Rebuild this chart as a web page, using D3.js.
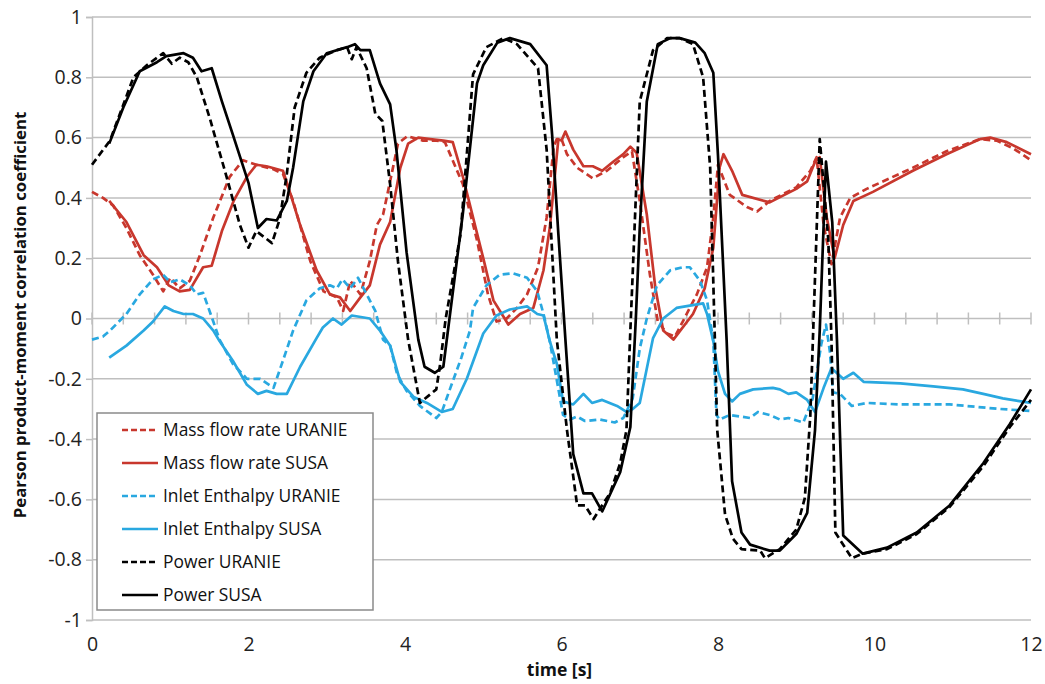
<!DOCTYPE html>
<html>
<head>
<meta charset="utf-8">
<script src="https://cdn.jsdelivr.net/npm/d3@7"></script>
<style>
  body { margin: 0; background: #fff; }
  text { font-family: "Open Sans", "Noto Sans", sans-serif; }
</style>
</head>
<body>
<div id="chart"></div>
<script>
// time [s] and correlation values
const tMassUranie = [0,0.14,0.27,0.44,0.61,0.78,0.91,1.0,1.12,1.25,1.38,1.55,1.76,1.93,2.1,2.32,2.44,2.57,2.79,2.96,3.13,3.21,3.3,3.43,3.55,3.64,3.72,3.81,3.91,4.03,4.23,4.4,4.51,4.74,4.92,5.06,5.17,5.3,5.43,5.56,5.7,5.81,5.9,5.94,6.0,6.07,6.2,6.4,6.58,6.79,6.9,7.0,7.13,7.23,7.35,7.45,7.73,7.86,7.94,8.0,8.15,8.37,8.5,8.66,9.0,9.18,9.26,9.35,9.45,9.56,9.69,9.9,10.49,10.92,11.35,11.56,11.77,12.0];
const vMassUranie = [0.42,0.40,0.375,0.30,0.21,0.145,0.09,0.135,0.10,0.125,0.21,0.335,0.47,0.525,0.51,0.495,0.48,0.39,0.19,0.09,0.07,0.025,0.125,0.08,0.19,0.31,0.345,0.455,0.58,0.605,0.59,0.59,0.585,0.445,0.26,0.08,-0.01,0.0,0.035,0.08,0.17,0.335,0.57,0.595,0.595,0.545,0.50,0.465,0.49,0.535,0.555,0.39,0.145,-0.01,-0.05,-0.06,0.08,0.17,0.335,0.51,0.41,0.37,0.355,0.39,0.435,0.49,0.535,0.31,0.18,0.335,0.40,0.43,0.50,0.555,0.595,0.59,0.565,0.525];

const tMassSusa = [0.22,0.44,0.66,0.83,0.98,1.12,1.25,1.42,1.53,1.66,1.81,1.98,2.1,2.23,2.44,2.51,2.66,2.87,3.04,3.17,3.3,3.43,3.55,3.68,3.81,3.94,4.04,4.17,4.32,4.49,4.61,4.74,4.87,5.0,5.13,5.32,5.47,5.64,5.77,5.85,5.96,6.0,6.05,6.15,6.28,6.4,6.52,6.66,6.79,6.88,6.96,7.09,7.2,7.3,7.43,7.68,7.83,7.94,8.02,8.07,8.18,8.31,8.66,9.0,9.14,9.24,9.3,9.39,9.49,9.6,9.73,9.98,10.49,10.92,11.35,11.48,11.69,12.0];
const vMassSusa = [0.39,0.32,0.21,0.17,0.11,0.09,0.095,0.17,0.175,0.29,0.39,0.47,0.51,0.505,0.49,0.435,0.31,0.16,0.08,0.07,0.025,0.07,0.11,0.245,0.32,0.50,0.58,0.60,0.595,0.59,0.585,0.47,0.335,0.20,0.06,-0.02,0.015,0.035,0.16,0.30,0.595,0.59,0.62,0.56,0.505,0.505,0.49,0.52,0.545,0.57,0.55,0.345,0.10,-0.04,-0.07,0.015,0.10,0.235,0.50,0.545,0.49,0.41,0.385,0.43,0.455,0.52,0.535,0.335,0.20,0.31,0.39,0.42,0.49,0.545,0.595,0.60,0.585,0.545];

const tInletUranie = [0,0.14,0.23,0.44,0.61,0.78,0.91,1.0,1.12,1.25,1.34,1.42,1.55,1.63,1.8,1.98,2.15,2.32,2.44,2.57,2.74,2.91,3.04,3.13,3.2,3.3,3.4,3.51,3.62,3.72,3.81,3.9,4.02,4.19,4.4,4.47,4.58,4.72,4.83,4.87,5.04,5.21,5.38,5.56,5.69,5.77,5.85,6.02,6.11,6.2,6.3,6.49,6.68,6.79,6.91,7.0,7.09,7.22,7.39,7.55,7.64,7.77,7.86,7.94,7.98,8.02,8.15,8.41,8.51,8.66,8.79,8.9,9.09,9.21,9.32,9.38,9.43,9.47,9.56,9.71,9.9,10.33,10.96,11.17,11.6,12.0];
const vInletUranie = [-0.07,-0.06,-0.04,0.015,0.08,0.13,0.145,0.12,0.13,0.11,0.08,0.085,-0.01,-0.07,-0.15,-0.20,-0.20,-0.23,-0.14,-0.04,0.06,0.10,0.11,0.10,0.13,0.10,0.135,0.08,0.025,-0.07,-0.09,-0.185,-0.24,-0.29,-0.33,-0.31,-0.23,-0.13,-0.04,0.035,0.11,0.145,0.15,0.135,0.09,0.015,-0.075,-0.32,-0.335,-0.325,-0.34,-0.335,-0.345,-0.33,-0.265,-0.10,0.0,0.11,0.16,0.17,0.17,0.125,0.06,-0.075,-0.32,-0.335,-0.32,-0.33,-0.31,-0.32,-0.335,-0.33,-0.345,-0.265,-0.085,-0.02,-0.11,-0.245,-0.25,-0.29,-0.28,-0.285,-0.285,-0.29,-0.30,-0.307];

const tInletSusa = [0.22,0.44,0.66,0.78,0.93,1.04,1.17,1.29,1.42,1.55,1.63,1.8,1.98,2.12,2.23,2.36,2.49,2.66,2.87,2.95,3.08,3.19,3.32,3.55,3.68,3.81,3.94,4.11,4.28,4.47,4.61,4.79,5.0,5.17,5.34,5.56,5.69,5.77,5.85,5.94,6.02,6.15,6.28,6.39,6.52,6.71,6.83,6.91,7.0,7.17,7.3,7.47,7.81,7.86,7.94,8.0,8.09,8.18,8.28,8.45,8.7,8.79,8.9,9.0,9.14,9.24,9.35,9.45,9.6,9.73,9.86,10.33,10.75,11.13,11.39,11.64,12.0];
const vInletSusa = [-0.13,-0.09,-0.04,-0.01,0.04,0.025,0.015,0.015,0.0,-0.04,-0.075,-0.14,-0.22,-0.25,-0.24,-0.25,-0.25,-0.16,-0.065,-0.03,0.0,-0.02,0.01,0.0,-0.04,-0.09,-0.21,-0.26,-0.28,-0.31,-0.30,-0.20,-0.05,0.01,0.03,0.04,0.015,0.01,-0.075,-0.15,-0.275,-0.285,-0.25,-0.28,-0.27,-0.29,-0.31,-0.30,-0.28,-0.065,0.0,0.035,0.05,0.015,-0.075,-0.175,-0.25,-0.275,-0.25,-0.235,-0.23,-0.235,-0.25,-0.245,-0.27,-0.31,-0.23,-0.165,-0.20,-0.18,-0.21,-0.215,-0.225,-0.235,-0.25,-0.265,-0.28];

const tPowerUranie = [0,0.23,0.53,0.7,0.91,1.02,1.12,1.23,1.34,1.51,1.72,1.89,2.0,2.1,2.3,2.4,2.49,2.59,2.74,2.91,3.13,3.26,3.32,3.38,3.51,3.62,3.71,3.81,3.91,4.04,4.19,4.4,4.45,4.52,4.71,4.87,5.04,5.26,5.43,5.7,5.81,5.94,6.07,6.2,6.3,6.41,6.53,6.62,6.75,6.83,6.88,7.0,7.17,7.35,7.51,7.68,7.81,7.9,7.96,7.99,8.09,8.19,8.3,8.54,8.6,8.79,9.0,9.11,9.18,9.3,9.41,9.45,9.5,9.71,9.85,10.16,10.54,10.96,11.39,11.73,12.0];
const vPowerUranie = [0.51,0.59,0.80,0.84,0.88,0.845,0.865,0.85,0.80,0.66,0.47,0.31,0.235,0.29,0.25,0.33,0.48,0.70,0.815,0.865,0.89,0.90,0.86,0.90,0.83,0.68,0.655,0.445,0.19,-0.07,-0.28,-0.235,-0.15,0.0,0.28,0.81,0.90,0.93,0.91,0.83,0.56,-0.07,-0.37,-0.62,-0.62,-0.665,-0.615,-0.58,-0.48,-0.37,-0.04,0.72,0.89,0.93,0.93,0.91,0.80,0.50,-0.07,-0.37,-0.65,-0.73,-0.765,-0.77,-0.795,-0.765,-0.70,-0.595,-0.32,0.595,0.26,-0.07,-0.71,-0.795,-0.78,-0.765,-0.715,-0.625,-0.49,-0.36,-0.27];

const tPowerSusa = [0.22,0.4,0.61,0.83,0.95,1.17,1.29,1.4,1.53,1.66,1.8,2.0,2.12,2.23,2.36,2.49,2.57,2.7,2.83,3.0,3.26,3.36,3.43,3.55,3.68,3.81,3.89,4.02,4.17,4.25,4.38,4.49,4.74,4.92,5.0,5.18,5.34,5.6,5.81,5.88,5.96,6.05,6.15,6.28,6.39,6.52,6.75,6.88,6.95,7.0,7.09,7.23,7.39,7.51,7.71,7.83,7.94,8.0,8.11,8.18,8.3,8.41,8.66,8.79,9.0,9.14,9.24,9.3,9.38,9.46,9.52,9.6,9.85,10.16,10.54,10.96,11.39,11.73,12.0];
const vPowerSusa = [0.58,0.70,0.82,0.85,0.87,0.88,0.865,0.82,0.83,0.72,0.61,0.45,0.30,0.33,0.325,0.39,0.50,0.72,0.82,0.88,0.90,0.91,0.89,0.89,0.78,0.71,0.56,0.22,-0.07,-0.16,-0.18,-0.16,0.35,0.78,0.84,0.915,0.93,0.91,0.84,0.61,0.28,-0.07,-0.45,-0.58,-0.58,-0.64,-0.51,-0.36,0.0,0.30,0.72,0.91,0.93,0.93,0.915,0.88,0.815,0.54,-0.07,-0.54,-0.71,-0.75,-0.77,-0.77,-0.715,-0.645,-0.37,-0.04,0.52,0.32,-0.07,-0.72,-0.78,-0.76,-0.71,-0.62,-0.48,-0.35,-0.235];

const seriesNames = ['Mass flow rate URANIE', 'Mass flow rate SUSA', 'Inlet Enthalpy URANIE',
    'Inlet Enthalpy SUSA', 'Power URANIE', 'Power SUSA'];
const yTicks = [-1, -0.8, -0.6, -0.4, -0.2, 0, 0.2, 0.4, 0.6, 0.8, 1];
const xTicks = [0, 2, 4, 6, 8, 10, 12];

const red = '#c8372d', blue = '#29a8e0', black = '#000000';
const series = [
    { name: seriesNames[0], t: tMassUranie, v: vMassUranie, color: red, dashed: true },
    { name: seriesNames[1], t: tMassSusa, v: vMassSusa, color: red, dashed: false },
    { name: seriesNames[2], t: tInletUranie, v: vInletUranie, color: blue, dashed: true },
    { name: seriesNames[3], t: tInletSusa, v: vInletSusa, color: blue, dashed: false },
    { name: seriesNames[4], t: tPowerUranie, v: vPowerUranie, color: black, dashed: true },
    { name: seriesNames[5], t: tPowerSusa, v: vPowerSusa, color: black, dashed: false }
];

const W = 1045, H = 684;
const margin = { top: 17, right: 14, bottom: 64, left: 92 };
const width = W - margin.left - margin.right;
const height = H - margin.top - margin.bottom;

const svg = d3.select('#chart').append('svg')
    .attr('width', W)
    .attr('height', H);
const g = svg.append('g').attr('transform', `translate(${margin.left},${margin.top})`);

const x = d3.scaleLinear().domain([0, 12]).range([0, width]);
const y = d3.scaleLinear().domain([-1, 1]).range([height, 0]);

// horizontal gridlines
g.selectAll('.grid')
    .data(yTicks)
    .enter()
    .append('line')
    .attr('x1', 0)
    .attr('x2', width)
    .attr('y1', d => y(d))
    .attr('y2', d => y(d))
    .attr('stroke', '#bfbfbf')
    .attr('stroke-width', 1.5);

// y axis (plain hyphen for negatives, like the original)
const yAxis = g.append('g')
    .call(d3.axisLeft(y).tickValues(yTicks).tickSize(6).tickPadding(4).tickFormat(d => String(+d.toFixed(1))));
yAxis.select('.domain').attr('stroke', '#bfbfbf').attr('stroke-width', 1.5);
yAxis.selectAll('line').attr('stroke', '#bfbfbf').attr('stroke-width', 1.5);
yAxis.selectAll('text').style('font-size', '19.5px').attr('fill', '#222');

// tick marks along the zero line
const zeroTicks = d3.range(0, 12.0001, 0.4);
g.append('g')
    .selectAll('line')
    .data(zeroTicks)
    .enter()
    .append('line')
    .attr('x1', d => x(d))
    .attr('x2', d => x(d))
    .attr('y1', y(0) - 6)
    .attr('y2', y(0) + 6)
    .attr('stroke', '#bfbfbf')
    .attr('stroke-width', 1.5);

// x tick labels below the plot
const xAxis = g.append('g')
    .attr('transform', `translate(0,${height})`)
    .call(d3.axisBottom(x).tickValues(xTicks).tickSize(0).tickPadding(17));
xAxis.select('.domain').remove();
xAxis.selectAll('text').style('font-size', '19.5px').attr('fill', '#222');

// axis titles
svg.append('text')
    .attr('x', margin.left + x(6) - 2)
    .attr('y', 676)
    .attr('text-anchor', 'middle')
    .style('font-size', '17.5px')
    .style('font-weight', 'bold')
    .attr('fill', '#111')
    .text('time [s]');

svg.append('text')
    .attr('transform', `translate(26,${315}) rotate(-90)`)
    .attr('text-anchor', 'middle')
    .style('font-size', '16.8px')
    .style('font-weight', 'bold')
    .attr('fill', '#111')
    .text('Pearson product-moment correlation coefficient');

// series lines
const line = d3.line()
    .x(d => x(d[0]))
    .y(d => y(d[1]));

g.selectAll('.series')
    .data(series)
    .enter()
    .append('path')
    .attr('class', 'series')
    .attr('d', s => line(s.t.map((t, i) => [t, s.v[i]])))
    .attr('fill', 'none')
    .attr('stroke', s => s.color)
    .attr('stroke-width', 2.7)
    .attr('stroke-linejoin', 'round')
    .attr('stroke-dasharray', s => s.dashed ? '7,4' : null);

// legend
const legend = svg.append('g').attr('transform', 'translate(97,413)');
legend.append('rect')
    .attr('width', 276)
    .attr('height', 197)
    .attr('fill', '#fff')
    .attr('stroke', '#8a8a8a')
    .attr('stroke-width', 1.5);

const items = legend.selectAll('.item')
    .data(series)
    .enter()
    .append('g')
    .attr('transform', (d, i) => `translate(0,${17 + i * 33})`);
items.append('line')
    .attr('x1', 25)
    .attr('x2', 61)
    .attr('stroke', d => d.color)
    .attr('stroke-width', 2.7)
    .attr('stroke-dasharray', d => d.dashed ? '6,3' : null);
items.append('text')
    .attr('x', 66)
    .attr('dy', '0.36em')
    .style('font-size', '17.4px')
    .attr('fill', '#111')
    .text(d => d.name);
</script>
</body>
</html>
